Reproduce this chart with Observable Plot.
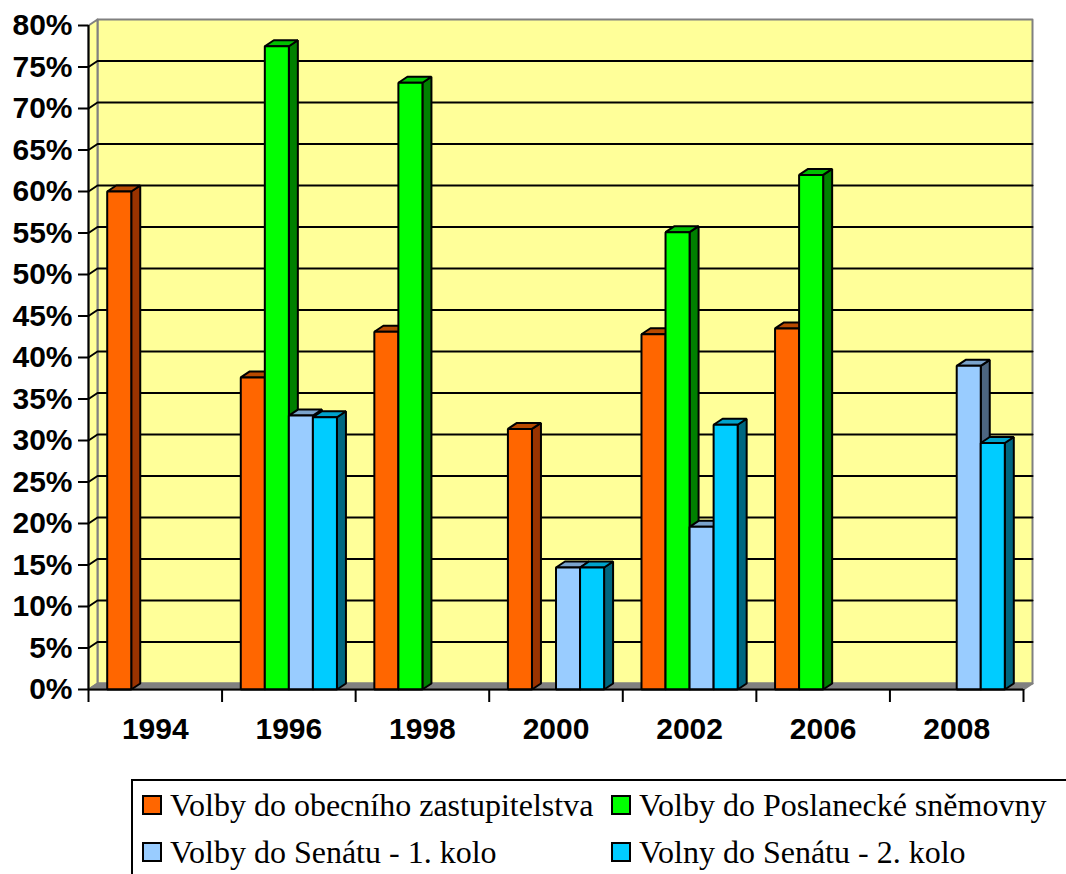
<!DOCTYPE html>
<html>
<head>
<meta charset="utf-8">
<script src="https://cdn.jsdelivr.net/npm/d3@7"></script>
<script src="https://cdn.jsdelivr.net/npm/@observablehq/plot@0.6"></script>
<style>
  html, body { margin: 0; padding: 0; background: #fff; overflow: hidden; }
  body { width: 1066px; height: 874px; position: relative; }
  #chart { position: absolute; left: 0; top: 0; }
  .lgbox { position: absolute; left: 131px; top: 779px; width: 1000px; height: 200px; border: 2px solid #000; box-sizing: border-box; }
  .sw { position: absolute; width: 20px; height: 20px; border: 2px solid #000; box-sizing: border-box; }
  .lt { position: absolute; font-size: 32px; line-height: 32px; white-space: nowrap; color: #000; }
</style>
</head>
<body>
<div id="chart"></div>
<div id="legend"></div>
<script>
// ---- data ----
const years = ["1994", "1996", "1998", "2000", "2002", "2006", "2008"];
const seriesNames = [
  "Volby do obecního zastupitelstva",
  "Volby do Poslanecké sněmovny",
  "Volby do Senátu - 1. kolo",
  "Volny do Senátu - 2. kolo"
];
const obecni     = [60.0, 37.6, 43.1, 31.4, 42.8, 43.5, null];
const poslanecka = [null, 77.5, 73.1, null, 55.1, 62.0, null];
const senat1     = [null, 33.0, null, 14.7, 19.6, null, 39.0];
const senat2     = [null, 32.8, null, 14.7, 31.9, null, 29.7];
const yTicks = [0, 5, 10, 15, 20, 25, 30, 35, 40, 45, 50, 55, 60, 65, 70, 75, 80];

// ---- styles ----
const frontColors = ["#FF6600", "#00FF00", "#99CCFF", "#00CCFF"];
const sideColors  = ["#993300", "#008000", "#4D6680", "#006680"];
const topColors   = ["#B84A00", "#00C000", "#7AA3CC", "#00A3CC"];
const wallColor = "#FFFF99";
const wallEdge = "#808080";

const allSeries = [obecni, poslanecka, senat1, senat2];
const nCat = years.length;
const pxX = 935 / nCat;   // px per category unit
const pxY = 664 / 80;     // px per percent
const bw = 0.18;          // bar width in category units
const DX = 9 / pxX;       // depth in x units
const DY = 6 / pxY;       // depth in y units (%)
const yMax = 80;

// polygons for bars in painter order
const polys = [];
let pid = 0;
function addPoly(pts, fill) {
  const id = pid++;
  for (const [x, y] of pts) polys.push({id, x, y, fill});
}
years.forEach((yr, i) => {
  allSeries.forEach((vals, j) => {
    const v = vals[i];
    if (v == null) return;
    const x0 = i + 0.5 - 2 * bw + j * bw, x1 = x0 + bw;
    addPoly([[x1, 0], [x1 + DX, DY], [x1 + DX, v + DY], [x1, v]], sideColors[j]);
    addPoly([[x0, v], [x1, v], [x1 + DX, v + DY], [x0 + DX, v + DY]], topColors[j]);
    addPoly([[x0, 0], [x1, 0], [x1, v], [x0, v]], frontColors[j]);
  });
});

// walls
const walls = [];
function addWall(id, pts, fill) { for (const [x, y] of pts) walls.push({id, x, y, fill}); }
addWall("back", [[DX, DY], [nCat + DX, DY], [nCat + DX, yMax + DY], [DX, yMax + DY]], wallColor);
addWall("left", [[0, 0], [DX, DY], [DX, yMax + DY], [0, yMax]], wallColor);
addWall("floor", [[0, 0], [nCat, 0], [nCat + DX, DY], [DX, DY]], "#808080");

// gridlines
const grid = [];
yTicks.filter(t => t > 0 && t < yMax).forEach(t => {
  grid.push({t, x: 0, y: t}, {t, x: DX, y: t + DY}, {t, x: nCat + DX, y: t + DY});
});

const catCenters = years.map((y, i) => ({x: i + 0.5, label: y}));
const catEdges = d3.range(nCat + 1);
const yTickLen = 10 / pxX;
const xTickLen = 13 / pxY;
const labelFont = {fontFamily: "'Liberation Sans', Arial, sans-serif", fontSize: 30, fontWeight: "bold", fill: "#000"};

const chart = Plot.plot({
  width: 1066,
  height: 774,
  marginLeft: 88,
  marginRight: 43,
  marginTop: 25,
  marginBottom: 85,
  style: {fontFamily: "'Liberation Sans', Arial, sans-serif", fontSize: "30px", fontWeight: "bold", background: "#fff", color: "#000"},
  x: {type: "linear", domain: [0, nCat], axis: null},
  y: {type: "linear", domain: [0, yMax], axis: null},
  color: {type: "identity"},
  marks: [
    Plot.line(walls, {x: "x", y: "y", z: "id", fill: "fill", stroke: wallEdge, strokeWidth: 2, curve: "linear-closed"}),
    Plot.line(grid, {x: "x", y: "y", z: "t", stroke: "#000", strokeWidth: 2}),
    Plot.line(polys, {x: "x", y: "y", z: "id", fill: "fill", stroke: "#000", strokeWidth: 2, strokeLinejoin: "miter", curve: "linear-closed"}),
    Plot.ruleX([0], {x: d => d, y1: 0, y2: yMax, stroke: "#000", strokeWidth: 2}),
    Plot.ruleY([0], {y: d => d, x1: 0, x2: nCat, stroke: "#000", strokeWidth: 2}),
    Plot.ruleY(yTicks, {y: d => d, x1: -yTickLen, x2: 0, stroke: "#000", strokeWidth: 2}),
    Plot.text(yTicks, {y: d => d, x: 0, text: d => d + "%", textAnchor: "end", dx: -16, ...labelFont}),
    Plot.ruleX(catEdges, {x: d => d, y1: -xTickLen, y2: 0, stroke: "#000", strokeWidth: 2}),
    Plot.text(catCenters, {x: "x", y: 0, text: "label", dy: 40, ...labelFont})
  ]
});
document.getElementById("chart").appendChild(chart);

// legend
const lg = document.getElementById("legend");
const box = document.createElement("div");
box.className = "lgbox";
lg.appendChild(box);
const pos = [[142, 795, 170, 789], [611, 795, 639, 789], [142, 842, 170, 836], [611, 842, 639, 836]];
seriesNames.forEach((name, j) => {
  const [sx, sy, tx, ty] = pos[j];
  const sw = document.createElement("div");
  sw.className = "sw";
  sw.style.left = sx + "px"; sw.style.top = sy + "px"; sw.style.background = frontColors[j];
  lg.appendChild(sw);
  const t = document.createElement("div");
  t.className = "lt";
  t.style.fontFamily = "'Liberation Serif', 'Times New Roman', serif";
  t.style.left = tx + "px"; t.style.top = ty + "px";
  t.textContent = name;
  lg.appendChild(t);
});
</script>
</body>
</html>
